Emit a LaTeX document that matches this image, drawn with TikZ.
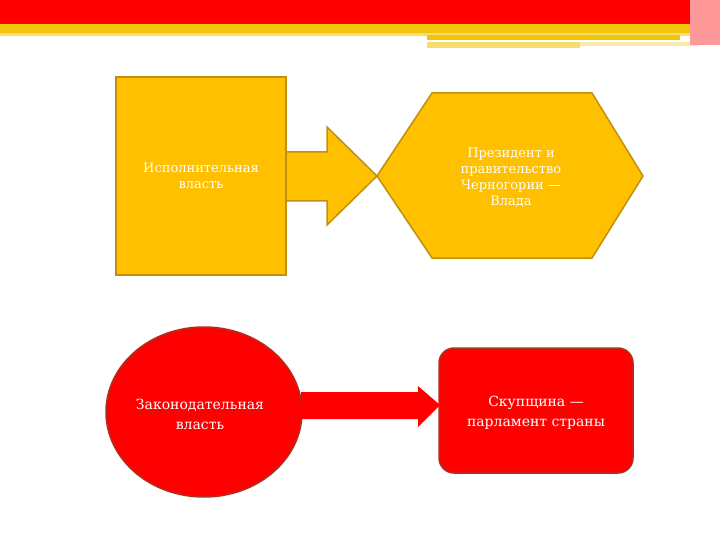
\documentclass[tikz,border=0pt]{standalone}
\usepackage{fontspec}
\setmainfont{DejaVu Serif}
\usetikzlibrary{shapes.geometric}
\begin{document}
\begin{tikzpicture}[x=1pt,y=-1pt,
  ybox/.style={fill=myyel,draw=ybord,line width=1.5pt,line join=miter},
  rbox/.style={fill=myred,draw=rbord,line width=1.5pt},
  lbl/.style={text=white,align=center,font=\fontsize{13}{16}\selectfont}]
\definecolor{myyel}{HTML}{FFC000}
\definecolor{ybord}{HTML}{C09010}
\definecolor{myred}{HTML}{FF0000}
\definecolor{rbord}{HTML}{B03020}
\definecolor{topyel}{HTML}{F2C40A}
\definecolor{paleyel}{HTML}{F8DC70}
\useasboundingbox (0,0) rectangle (720,540);
% top banner
\fill[myred] (0,0) rectangle (720,24);
\fill[topyel] (0,24) rectangle (700,35);
\fill[paleyel] (0,33) rectangle (700,36);
\fill[topyel] (427,35) rectangle (680,40);
\fill[paleyel] (427,42) rectangle (580,48);
\fill[paleyel!60] (580,42) rectangle (700,46);
\fill[myred!40] (690,0) rectangle (720,45);
% shapes
\node[ybox,minimum width=170pt,minimum height=198pt,inner sep=0] (ex) at (201,176) {};
\node[lbl] (exl) at (201,176) {Исполнительная\\власть};
\path[ybox] (286,152) -- (327,152) -- (327,127) -- (377,176) -- (327,225) -- (327,201) -- (286,201) -- cycle;
\path[ybox] (432,93) -- (592,93) -- (643,176) -- (592,258) -- (432,258) -- (377,176) -- cycle;
\node[lbl] (pr) at (511,178) {Президент и\\правительство\\Черногории —\\Влада};
\node[rbox,ellipse,minimum width=196pt,minimum height=170pt,inner sep=0] (leg) at (204,412) {};
\node[lbl,font=\fontsize{14}{20}\selectfont] (legl) at (200,414) {Законодательная\\власть};
\node[rbox,rounded corners=15pt,minimum width=194pt,minimum height=125pt,inner sep=0] (sk) at (536,410.5) {};
\node[lbl,font=\fontsize{14}{20}\selectfont] (skl) at (536,413) {Скупщина —\\парламент страны};
\fill[myred] (301,392) -- (418,392) -- (418,386) -- (440,405) -- (418,427) -- (418,419) -- (301,419) -- cycle;
\end{tikzpicture}
\end{document}
